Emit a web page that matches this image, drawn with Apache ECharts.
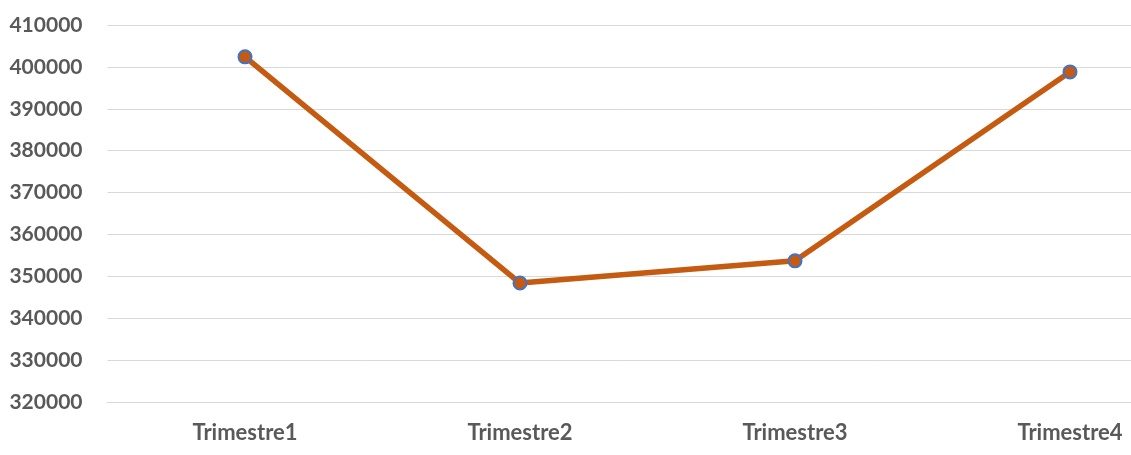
<!DOCTYPE html>
<html>
<head>
<meta charset="utf-8">
<script src="https://cdn.jsdelivr.net/npm/echarts@6/dist/echarts.min.js"></script>
<style>html,body{margin:0;padding:0;background:#fff}#c{width:1131px;height:455px}</style>
</head>
<body>
<div id="c"></div>
<script>
var categories = ['Trimestre1', 'Trimestre2', 'Trimestre3', 'Trimestre4'];
var values = [402400, 348400, 353700, 398800];
var yMin = 320000, yMax = 410000, yStep = 10000;

// x axis: category positions 0..3, band width 275px, plot cropped on the right
var xMin = -0.5, xMax = (1131 - 107.5) / 275 - 0.5;
var points = values.map(function (v, i) { return [i, v]; });
var catIdx = categories.map(function (c, i) { return i; });

var chart = echarts.init(document.getElementById('c'));
chart.setOption({
  animation: false,
  grid: { left: 107.5, right: 0, top: 25, bottom: 53, containLabel: false },
  xAxis: {
    type: 'value', min: xMin, max: xMax,
    splitLine: { show: false },
    axisLine: { show: true, lineStyle: { color: '#d9d9d9', width: 1 } },
    axisTick: { show: false },
    axisLabel: {
      customValues: catIdx,
      formatter: function (v) { return categories[Math.round(v)] || ''; },
      color: '#595959', fontFamily: 'Lato', fontWeight: 'bold', fontSize: 22, margin: 20
    }
  },
  yAxis: {
    type: 'value', min: yMin, max: yMax, interval: yStep,
    axisLine: { show: false }, axisTick: { show: false },
    splitLine: { lineStyle: { color: '#d9d9d9', width: 1 } },
    axisLabel: { formatter: function (v) { return String(v); }, color: '#595959', fontFamily: 'Lato', fontWeight: 'bold', fontSize: 21, margin: 25 }
  },
  series: [{
    type: 'line', data: points,
    lineStyle: { color: '#C55A11', width: 5.5 },
    symbol: 'circle', symbolSize: 13,
    itemStyle: { color: '#C55A11', borderColor: '#4472C4', borderWidth: 2 }
  }]
});
</script>
</body>
</html>
